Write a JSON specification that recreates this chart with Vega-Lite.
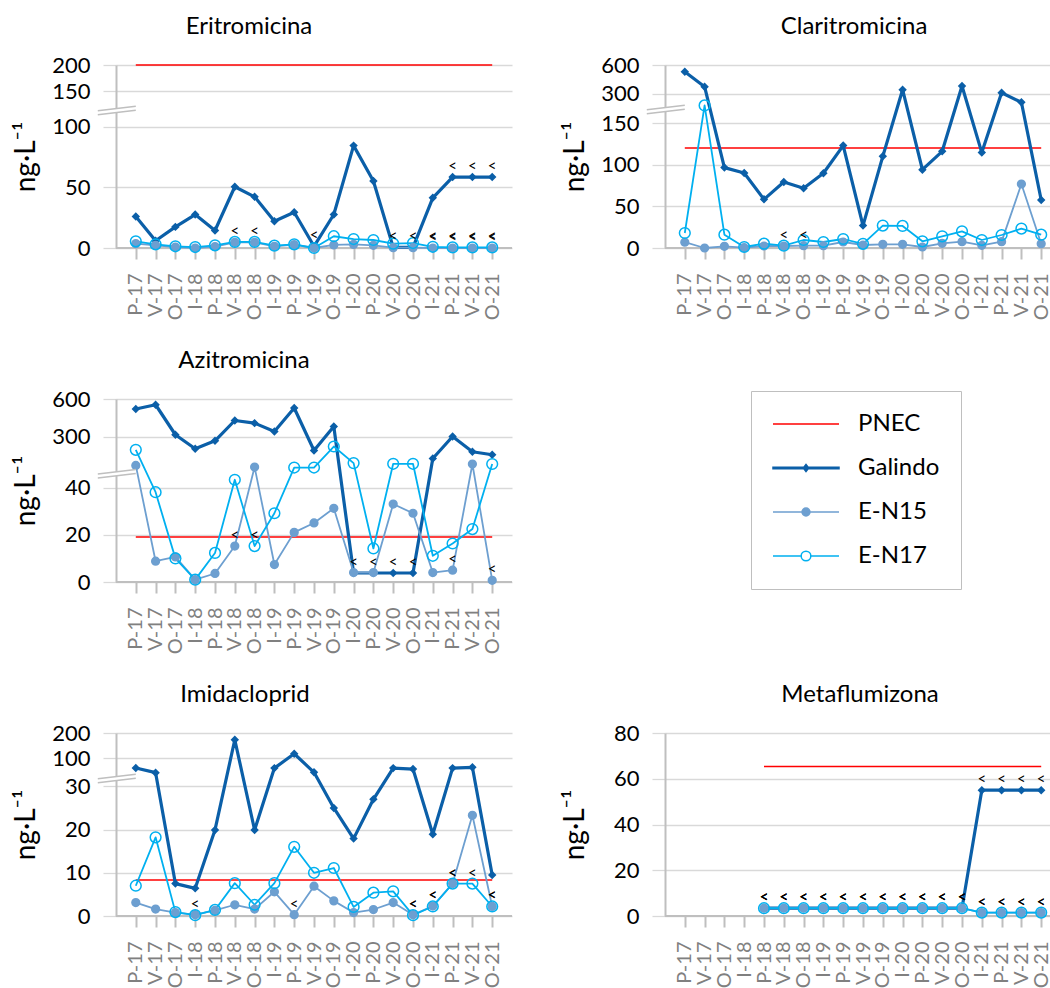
{
"$schema": "https://vega.github.io/schema/vega-lite/v6.json",
"background": "white",
"padding": {"left": 12, "top": 15, "right": 0, "bottom": 0},
"datasets": {"d": [
{"panel":"E","series":"Galindo","period":"P-17","value":26},
{"panel":"E","series":"Galindo","period":"V-17","value":6},
{"panel":"E","series":"Galindo","period":"O-17","value":17.4},
{"panel":"E","series":"Galindo","period":"I-18","value":27.6},
{"panel":"E","series":"Galindo","period":"P-18","value":14.4},
{"panel":"E","series":"Galindo","period":"V-18","value":50.5},
{"panel":"E","series":"Galindo","period":"O-18","value":42.2},
{"panel":"E","series":"Galindo","period":"I-19","value":22.1},
{"panel":"E","series":"Galindo","period":"P-19","value":29.5},
{"panel":"E","series":"Galindo","period":"V-19","value":1.4,"lt":1},
{"panel":"E","series":"Galindo","period":"O-19","value":27.6},
{"panel":"E","series":"Galindo","period":"I-20","value":84.4},
{"panel":"E","series":"Galindo","period":"P-20","value":55.2},
{"panel":"E","series":"Galindo","period":"V-20","value":0.5,"lt":1},
{"panel":"E","series":"Galindo","period":"O-20","value":0.5,"lt":1},
{"panel":"E","series":"Galindo","period":"I-21","value":41.4},
{"panel":"E","series":"Galindo","period":"P-21","value":58.5,"lt":1},
{"panel":"E","series":"Galindo","period":"V-21","value":58.5,"lt":1},
{"panel":"E","series":"Galindo","period":"O-21","value":58.5,"lt":1},
{"panel":"E","series":"E-N15","period":"P-17","value":3.6},
{"panel":"E","series":"E-N15","period":"V-17","value":2.2},
{"panel":"E","series":"E-N15","period":"O-17","value":0.8},
{"panel":"E","series":"E-N15","period":"I-18","value":0},
{"panel":"E","series":"E-N15","period":"P-18","value":1.2},
{"panel":"E","series":"E-N15","period":"V-18","value":4.7,"lt":1},
{"panel":"E","series":"E-N15","period":"O-18","value":4.7,"lt":1},
{"panel":"E","series":"E-N15","period":"I-19","value":1.4},
{"panel":"E","series":"E-N15","period":"P-19","value":2.8},
{"panel":"E","series":"E-N15","period":"V-19","value":0},
{"panel":"E","series":"E-N15","period":"O-19","value":2.5},
{"panel":"E","series":"E-N15","period":"I-20","value":3},
{"panel":"E","series":"E-N15","period":"P-20","value":2.2},
{"panel":"E","series":"E-N15","period":"V-20","value":0.3},
{"panel":"E","series":"E-N15","period":"O-20","value":0.3},
{"panel":"E","series":"E-N15","period":"I-21","value":0,"lt":1},
{"panel":"E","series":"E-N15","period":"P-21","value":0,"lt":1},
{"panel":"E","series":"E-N15","period":"V-21","value":0,"lt":1},
{"panel":"E","series":"E-N15","period":"O-21","value":0,"lt":1},
{"panel":"E","series":"E-N17","period":"P-17","value":5.5},
{"panel":"E","series":"E-N17","period":"V-17","value":3},
{"panel":"E","series":"E-N17","period":"O-17","value":1.4},
{"panel":"E","series":"E-N17","period":"I-18","value":0.8},
{"panel":"E","series":"E-N17","period":"P-18","value":2.2},
{"panel":"E","series":"E-N17","period":"V-18","value":5},
{"panel":"E","series":"E-N17","period":"O-18","value":5},
{"panel":"E","series":"E-N17","period":"I-19","value":1.9},
{"panel":"E","series":"E-N17","period":"P-19","value":3},
{"panel":"E","series":"E-N17","period":"V-19","value":0},
{"panel":"E","series":"E-N17","period":"O-19","value":9.7},
{"panel":"E","series":"E-N17","period":"I-20","value":7.4},
{"panel":"E","series":"E-N17","period":"P-20","value":6.6},
{"panel":"E","series":"E-N17","period":"V-20","value":3.6},
{"panel":"E","series":"E-N17","period":"O-20","value":4.1},
{"panel":"E","series":"E-N17","period":"I-21","value":1,"lt":1},
{"panel":"E","series":"E-N17","period":"P-21","value":0.5,"lt":1},
{"panel":"E","series":"E-N17","period":"V-21","value":0.5,"lt":1},
{"panel":"E","series":"E-N17","period":"O-21","value":0.5,"lt":1},
{"panel":"C","series":"Galindo","period":"P-17","value":530},
{"panel":"C","series":"Galindo","period":"V-17","value":373},
{"panel":"C","series":"Galindo","period":"O-17","value":96.5},
{"panel":"C","series":"Galindo","period":"I-18","value":90},
{"panel":"C","series":"Galindo","period":"P-18","value":58.4},
{"panel":"C","series":"Galindo","period":"V-18","value":79.2},
{"panel":"C","series":"Galindo","period":"O-18","value":71.7},
{"panel":"C","series":"Galindo","period":"I-19","value":89.7},
{"panel":"C","series":"Galindo","period":"P-19","value":122.9},
{"panel":"C","series":"Galindo","period":"V-19","value":26.9},
{"panel":"C","series":"Galindo","period":"O-19","value":110},
{"panel":"C","series":"Galindo","period":"I-20","value":342},
{"panel":"C","series":"Galindo","period":"P-20","value":94},
{"panel":"C","series":"Galindo","period":"V-20","value":116},
{"panel":"C","series":"Galindo","period":"O-20","value":380},
{"panel":"C","series":"Galindo","period":"I-21","value":114.5},
{"panel":"C","series":"Galindo","period":"P-21","value":310},
{"panel":"C","series":"Galindo","period":"V-21","value":256},
{"panel":"C","series":"Galindo","period":"O-21","value":57.6},
{"panel":"C","series":"E-N15","period":"P-17","value":7},
{"panel":"C","series":"E-N15","period":"V-17","value":0},
{"panel":"C","series":"E-N15","period":"O-17","value":2},
{"panel":"C","series":"E-N15","period":"I-18","value":0.4},
{"panel":"C","series":"E-N15","period":"P-18","value":2.4},
{"panel":"C","series":"E-N15","period":"V-18","value":2.4,"lt":1},
{"panel":"C","series":"E-N15","period":"O-18","value":2.8,"lt":1},
{"panel":"C","series":"E-N15","period":"I-19","value":2.8},
{"panel":"C","series":"E-N15","period":"P-19","value":7.2},
{"panel":"C","series":"E-N15","period":"V-19","value":3.6},
{"panel":"C","series":"E-N15","period":"O-19","value":4.4},
{"panel":"C","series":"E-N15","period":"I-20","value":4.4},
{"panel":"C","series":"E-N15","period":"P-20","value":1.2},
{"panel":"C","series":"E-N15","period":"V-20","value":5.6},
{"panel":"C","series":"E-N15","period":"O-20","value":7.6},
{"panel":"C","series":"E-N15","period":"I-21","value":3.2},
{"panel":"C","series":"E-N15","period":"P-21","value":7.6},
{"panel":"C","series":"E-N15","period":"V-21","value":76.8},
{"panel":"C","series":"E-N15","period":"O-21","value":5.2},
{"panel":"C","series":"E-N17","period":"P-17","value":18},
{"panel":"C","series":"E-N17","period":"V-17","value":240},
{"panel":"C","series":"E-N17","period":"O-17","value":16},
{"panel":"C","series":"E-N17","period":"I-18","value":1.2},
{"panel":"C","series":"E-N17","period":"P-18","value":5.2},
{"panel":"C","series":"E-N17","period":"V-18","value":2.8},
{"panel":"C","series":"E-N17","period":"O-18","value":9.6},
{"panel":"C","series":"E-N17","period":"I-19","value":7.2},
{"panel":"C","series":"E-N17","period":"P-19","value":10.8},
{"panel":"C","series":"E-N17","period":"V-19","value":5},
{"panel":"C","series":"E-N17","period":"O-19","value":26.9},
{"panel":"C","series":"E-N17","period":"I-20","value":26.5},
{"panel":"C","series":"E-N17","period":"P-20","value":8},
{"panel":"C","series":"E-N17","period":"V-20","value":14},
{"panel":"C","series":"E-N17","period":"O-20","value":20},
{"panel":"C","series":"E-N17","period":"I-21","value":9.6},
{"panel":"C","series":"E-N17","period":"P-21","value":15.6},
{"panel":"C","series":"E-N17","period":"V-21","value":23.3},
{"panel":"C","series":"E-N17","period":"O-21","value":16},
{"panel":"A","series":"Galindo","period":"P-17","value":520},
{"panel":"A","series":"Galindo","period":"V-17","value":554},
{"panel":"A","series":"Galindo","period":"O-17","value":314},
{"panel":"A","series":"Galindo","period":"I-18","value":188},
{"panel":"A","series":"Galindo","period":"P-18","value":261},
{"panel":"A","series":"Galindo","period":"V-18","value":428},
{"panel":"A","series":"Galindo","period":"O-18","value":407},
{"panel":"A","series":"Galindo","period":"I-19","value":340},
{"panel":"A","series":"Galindo","period":"P-19","value":528},
{"panel":"A","series":"Galindo","period":"V-19","value":173},
{"panel":"A","series":"Galindo","period":"O-19","value":380},
{"panel":"A","series":"Galindo","period":"I-20","value":3.8,"lt":1},
{"panel":"A","series":"Galindo","period":"P-20","value":3.8,"lt":1},
{"panel":"A","series":"Galindo","period":"V-20","value":3.8,"lt":1},
{"panel":"A","series":"Galindo","period":"O-20","value":3.8,"lt":1},
{"panel":"A","series":"Galindo","period":"I-21","value":100},
{"panel":"A","series":"Galindo","period":"P-21","value":300},
{"panel":"A","series":"Galindo","period":"V-21","value":161},
{"panel":"A","series":"Galindo","period":"O-21","value":134},
{"panel":"A","series":"E-N15","period":"P-17","value":49.4},
{"panel":"A","series":"E-N15","period":"V-17","value":8.8},
{"panel":"A","series":"E-N15","period":"O-17","value":10.6},
{"panel":"A","series":"E-N15","period":"I-18","value":1},
{"panel":"A","series":"E-N15","period":"P-18","value":3.6},
{"panel":"A","series":"E-N15","period":"V-18","value":15.2,"lt":1},
{"panel":"A","series":"E-N15","period":"O-18","value":48.7},
{"panel":"A","series":"E-N15","period":"I-19","value":7.4},
{"panel":"A","series":"E-N15","period":"P-19","value":21},
{"panel":"A","series":"E-N15","period":"V-19","value":25},
{"panel":"A","series":"E-N15","period":"O-19","value":31.2},
{"panel":"A","series":"E-N15","period":"I-20","value":4},
{"panel":"A","series":"E-N15","period":"P-20","value":4},
{"panel":"A","series":"E-N15","period":"V-20","value":33},
{"panel":"A","series":"E-N15","period":"O-20","value":29.1},
{"panel":"A","series":"E-N15","period":"I-21","value":4},
{"panel":"A","series":"E-N15","period":"P-21","value":5,"lt":1},
{"panel":"A","series":"E-N15","period":"V-21","value":50},
{"panel":"A","series":"E-N15","period":"O-21","value":0.7,"lt":1},
{"panel":"A","series":"E-N17","period":"P-17","value":179},
{"panel":"A","series":"E-N17","period":"V-17","value":38},
{"panel":"A","series":"E-N17","period":"O-17","value":10},
{"panel":"A","series":"E-N17","period":"I-18","value":1},
{"panel":"A","series":"E-N17","period":"P-18","value":12.3},
{"panel":"A","series":"E-N17","period":"V-18","value":43.3},
{"panel":"A","series":"E-N17","period":"O-18","value":15.2,"lt":1},
{"panel":"A","series":"E-N17","period":"I-19","value":29.1},
{"panel":"A","series":"E-N17","period":"P-19","value":48.5},
{"panel":"A","series":"E-N17","period":"V-19","value":48.5},
{"panel":"A","series":"E-N17","period":"O-19","value":209},
{"panel":"A","series":"E-N17","period":"I-20","value":58},
{"panel":"A","series":"E-N17","period":"P-20","value":14.2},
{"panel":"A","series":"E-N17","period":"V-20","value":52},
{"panel":"A","series":"E-N17","period":"O-20","value":52},
{"panel":"A","series":"E-N17","period":"I-21","value":11.1},
{"panel":"A","series":"E-N17","period":"P-21","value":16.3},
{"panel":"A","series":"E-N17","period":"V-21","value":22.4},
{"panel":"A","series":"E-N17","period":"O-21","value":50},
{"panel":"I","series":"Galindo","period":"P-17","value":75.3},
{"panel":"I","series":"Galindo","period":"V-17","value":63.7},
{"panel":"I","series":"Galindo","period":"O-17","value":7.5},
{"panel":"I","series":"Galindo","period":"I-18","value":6.4},
{"panel":"I","series":"Galindo","period":"P-18","value":19.9},
{"panel":"I","series":"Galindo","period":"V-18","value":173},
{"panel":"I","series":"Galindo","period":"O-18","value":19.9},
{"panel":"I","series":"Galindo","period":"I-19","value":75},
{"panel":"I","series":"Galindo","period":"P-19","value":117},
{"panel":"I","series":"Galindo","period":"V-19","value":64.6},
{"panel":"I","series":"Galindo","period":"O-19","value":25},
{"panel":"I","series":"Galindo","period":"I-20","value":17.9},
{"panel":"I","series":"Galindo","period":"P-20","value":27},
{"panel":"I","series":"Galindo","period":"V-20","value":75},
{"panel":"I","series":"Galindo","period":"O-20","value":72.6},
{"panel":"I","series":"Galindo","period":"I-21","value":18.9},
{"panel":"I","series":"Galindo","period":"P-21","value":75},
{"panel":"I","series":"Galindo","period":"V-21","value":77},
{"panel":"I","series":"Galindo","period":"O-21","value":9.5},
{"panel":"I","series":"E-N15","period":"P-17","value":3.1},
{"panel":"I","series":"E-N15","period":"V-17","value":1.6},
{"panel":"I","series":"E-N15","period":"O-17","value":0.8},
{"panel":"I","series":"E-N15","period":"I-18","value":0.3,"lt":1},
{"panel":"I","series":"E-N15","period":"P-18","value":1.3},
{"panel":"I","series":"E-N15","period":"V-18","value":2.6},
{"panel":"I","series":"E-N15","period":"O-18","value":1.6},
{"panel":"I","series":"E-N15","period":"I-19","value":5.6},
{"panel":"I","series":"E-N15","period":"P-19","value":0.3,"lt":1},
{"panel":"I","series":"E-N15","period":"V-19","value":6.9},
{"panel":"I","series":"E-N15","period":"O-19","value":3.5},
{"panel":"I","series":"E-N15","period":"I-20","value":0.8},
{"panel":"I","series":"E-N15","period":"P-20","value":1.5},
{"panel":"I","series":"E-N15","period":"V-20","value":3.1},
{"panel":"I","series":"E-N15","period":"O-20","value":0.3,"lt":1},
{"panel":"I","series":"E-N15","period":"I-21","value":2.3,"lt":1},
{"panel":"I","series":"E-N15","period":"P-21","value":7.5,"lt":1},
{"panel":"I","series":"E-N15","period":"V-21","value":23.3},
{"panel":"I","series":"E-N15","period":"O-21","value":2.2,"lt":1},
{"panel":"I","series":"E-N17","period":"P-17","value":7},
{"panel":"I","series":"E-N17","period":"V-17","value":18.2},
{"panel":"I","series":"E-N17","period":"O-17","value":0.9},
{"panel":"I","series":"E-N17","period":"I-18","value":0.2},
{"panel":"I","series":"E-N17","period":"P-18","value":1.4},
{"panel":"I","series":"E-N17","period":"V-18","value":7.6},
{"panel":"I","series":"E-N17","period":"O-18","value":2.6},
{"panel":"I","series":"E-N17","period":"I-19","value":7.6},
{"panel":"I","series":"E-N17","period":"P-19","value":16},
{"panel":"I","series":"E-N17","period":"V-19","value":10},
{"panel":"I","series":"E-N17","period":"O-19","value":11.1},
{"panel":"I","series":"E-N17","period":"I-20","value":2.1},
{"panel":"I","series":"E-N17","period":"P-20","value":5.4},
{"panel":"I","series":"E-N17","period":"V-20","value":5.7},
{"panel":"I","series":"E-N17","period":"O-20","value":0.2,"lt":1},
{"panel":"I","series":"E-N17","period":"I-21","value":2.2,"lt":1},
{"panel":"I","series":"E-N17","period":"P-21","value":7.5,"lt":1},
{"panel":"I","series":"E-N17","period":"V-21","value":7.5,"lt":1},
{"panel":"I","series":"E-N17","period":"O-21","value":2.2,"lt":1},
{"panel":"M","series":"Galindo","period":"P-18","value":3.4,"lt":1},
{"panel":"M","series":"Galindo","period":"V-18","value":3.4,"lt":1},
{"panel":"M","series":"Galindo","period":"O-18","value":3.4,"lt":1},
{"panel":"M","series":"Galindo","period":"I-19","value":3.4,"lt":1},
{"panel":"M","series":"Galindo","period":"P-19","value":3.4,"lt":1},
{"panel":"M","series":"Galindo","period":"V-19","value":3.4,"lt":1},
{"panel":"M","series":"Galindo","period":"O-19","value":3.4,"lt":1},
{"panel":"M","series":"Galindo","period":"I-20","value":3.4,"lt":1},
{"panel":"M","series":"Galindo","period":"P-20","value":3.4,"lt":1},
{"panel":"M","series":"Galindo","period":"V-20","value":3.4,"lt":1},
{"panel":"M","series":"Galindo","period":"O-20","value":3.4,"lt":1},
{"panel":"M","series":"Galindo","period":"I-21","value":55,"lt":1},
{"panel":"M","series":"Galindo","period":"P-21","value":55,"lt":1},
{"panel":"M","series":"Galindo","period":"V-21","value":55,"lt":1},
{"panel":"M","series":"Galindo","period":"O-21","value":55,"lt":1},
{"panel":"M","series":"E-N15","period":"P-18","value":3.4,"lt":1},
{"panel":"M","series":"E-N15","period":"V-18","value":3.4,"lt":1},
{"panel":"M","series":"E-N15","period":"O-18","value":3.4,"lt":1},
{"panel":"M","series":"E-N15","period":"I-19","value":3.4,"lt":1},
{"panel":"M","series":"E-N15","period":"P-19","value":3.4,"lt":1},
{"panel":"M","series":"E-N15","period":"V-19","value":3.4,"lt":1},
{"panel":"M","series":"E-N15","period":"O-19","value":3.4,"lt":1},
{"panel":"M","series":"E-N15","period":"I-20","value":3.4,"lt":1},
{"panel":"M","series":"E-N15","period":"P-20","value":3.4,"lt":1},
{"panel":"M","series":"E-N15","period":"V-20","value":3.4,"lt":1},
{"panel":"M","series":"E-N15","period":"O-20","value":3.4,"lt":1},
{"panel":"M","series":"E-N15","period":"I-21","value":1.5,"lt":1},
{"panel":"M","series":"E-N15","period":"P-21","value":1.5,"lt":1},
{"panel":"M","series":"E-N15","period":"V-21","value":1.5,"lt":1},
{"panel":"M","series":"E-N15","period":"O-21","value":1.5,"lt":1},
{"panel":"M","series":"E-N17","period":"P-18","value":3.4,"lt":1},
{"panel":"M","series":"E-N17","period":"V-18","value":3.4,"lt":1},
{"panel":"M","series":"E-N17","period":"O-18","value":3.4,"lt":1},
{"panel":"M","series":"E-N17","period":"I-19","value":3.4,"lt":1},
{"panel":"M","series":"E-N17","period":"P-19","value":3.4,"lt":1},
{"panel":"M","series":"E-N17","period":"V-19","value":3.4,"lt":1},
{"panel":"M","series":"E-N17","period":"O-19","value":3.4,"lt":1},
{"panel":"M","series":"E-N17","period":"I-20","value":3.4,"lt":1},
{"panel":"M","series":"E-N17","period":"P-20","value":3.4,"lt":1},
{"panel":"M","series":"E-N17","period":"V-20","value":3.4,"lt":1},
{"panel":"M","series":"E-N17","period":"O-20","value":3.4,"lt":1},
{"panel":"M","series":"E-N17","period":"I-21","value":1.5,"lt":1},
{"panel":"M","series":"E-N17","period":"P-21","value":1.5,"lt":1},
{"panel":"M","series":"E-N17","period":"V-21","value":1.5,"lt":1},
{"panel":"M","series":"E-N17","period":"O-21","value":1.5,"lt":1}
]},
"data": {"name": "d"},
"spacing": 29,
"vconcat": [
{"spacing": 48, "hconcat": [
{"title": {"text": "Eritromicina", "dx": -65}, "width": 396, "height": 183, "layer": [
 {"data": {"values": [{}]}, "mark": {"type": "rule", "color": "#bfbfbf", "strokeWidth": 2}, "encoding": {"y": {"datum": 0, "type": "quantitative", "title": "ng·L⁻¹", "scale": {"domain": [0,100,150,200], "range": [183,61.7,26,0], "nice": false}, "axis": {"values": [0,50,100,150,200], "tickCount": 10, "title": "ng·L⁻¹"}}}},
 {"data": {"values": [{}]}, "mark": {"type": "rule", "color": "#ff0000", "strokeWidth": 1.5}, "encoding": {"x": {"datum": "P-17", "type": "ordinal", "title": null}, "x2": {"datum": "O-21"}, "y": {"datum": 200, "type": "quantitative", "title": "ng·L⁻¹"}}},
 {"transform": [{"filter": "datum.panel==='E'"}], "mark": {"type": "line", "strokeJoin": "round"}, "encoding": {
   "x": {"field": "period", "type": "ordinal", "sort": null, "title": null, "scale": {"type": "point", "padding": 1, "domain": ["P-17","V-17","O-17","I-18","P-18","V-18","O-18","I-19","P-19","V-19","O-19","I-20","P-20","V-20","O-20","I-21","P-21","V-21","O-21"]}, "axis": {"title": null}},
   "y": {"field": "value", "type": "quantitative", "title": "ng·L⁻¹"},
   "detail": {"field": "series"},
   "stroke": {"condition": [{"test": "datum.series==='Galindo'", "value": "#0b5fa8"}, {"test": "datum.series==='E-N15'", "value": "#6d9fd0"}], "value": "#00b0f0"},
   "strokeWidth": {"condition": {"test": "datum.series==='Galindo'", "value": 3.2}, "value": 1.8},
   "order": {"value": null}}},
 {"transform": [{"filter": "datum.panel==='E'"}], "mark": {"type": "point", "filled": true, "strokeWidth": 1.5, "opacity": 1}, "encoding": {
   "x": {"field": "period", "type": "ordinal", "sort": null, "title": null},
   "y": {"field": "value", "type": "quantitative", "title": "ng·L⁻¹"},
   "fill": {"condition": [{"test": "datum.series==='Galindo'", "value": "#0b5fa8"}, {"test": "datum.series==='E-N15'", "value": "#6d9fd0"}], "value": "transparent"},
   "stroke": {"condition": [{"test": "datum.series==='Galindo'", "value": "#0b5fa8"}, {"test": "datum.series==='E-N15'", "value": "#6d9fd0"}], "value": "#00b0f0"},
   "shape": {"condition": {"test": "datum.series==='Galindo'", "value": "diamond"}, "value": "circle"},
   "size": {"condition": [{"test": "datum.series==='Galindo'", "value": 40}, {"test": "datum.series==='E-N15'", "value": 60}], "value": 115}}},
 {"transform": [{"filter": "datum.panel==='E' && datum.lt===1"}], "mark": {"type": "text", "text": "<", "fontSize": 15, "dy": -11, "color": "black"}, "encoding": {
   "x": {"field": "period", "type": "ordinal", "sort": null, "title": null},
   "y": {"field": "value", "type": "quantitative", "title": "ng·L⁻¹"}}},
 {"data": {"values": [{}]}, "mark": {"type": "point", "shape": "M-3.8,0.05L0,-0.4L0,0L-3.8,0.45Z", "size": 400, "filled": true, "fill": "white", "strokeWidth": 0, "opacity": 1}, "encoding": {"x": {"datum": "P-17", "type": "ordinal", "title": null}, "y": {"datum": 123, "type": "quantitative", "title": "ng·L⁻¹"}}},
 {"data": {"values": [{}]}, "mark": {"type": "point", "shape": "M-3.8,0.05L0,-0.4M-3.8,0.45L0,0", "size": 400, "filled": false, "stroke": "#bfbfbf", "strokeWidth": 1.5, "opacity": 1}, "encoding": {"x": {"datum": "P-17", "type": "ordinal", "title": null}, "y": {"datum": 123, "type": "quantitative", "title": "ng·L⁻¹"}}}
]},
{"title": {"text": "Claritromicina", "dx": -4}, "width": 386, "height": 183, "layer": [
 {"data": {"values": [{}]}, "mark": {"type": "rule", "color": "#bfbfbf", "strokeWidth": 2}, "encoding": {"y": {"datum": 0, "type": "quantitative", "title": "ng·L⁻¹", "scale": {"domain": [0,150,300,600], "range": [183,58,28.7,0], "nice": false}, "axis": {"values": [0,50,100,150,300,600], "tickCount": 10, "title": "ng·L⁻¹"}}}},
 {"data": {"values": [{}]}, "mark": {"type": "rule", "color": "#ff0000", "strokeWidth": 1.5}, "encoding": {"x": {"datum": "P-17", "type": "ordinal", "title": null}, "x2": {"datum": "O-21"}, "y": {"datum": 120, "type": "quantitative", "title": "ng·L⁻¹"}}},
 {"transform": [{"filter": "datum.panel==='C'"}], "mark": {"type": "line", "strokeJoin": "round"}, "encoding": {
   "x": {"field": "period", "type": "ordinal", "sort": null, "title": null, "scale": {"type": "point", "padding": 1, "range": [0, 396], "domain": ["P-17","V-17","O-17","I-18","P-18","V-18","O-18","I-19","P-19","V-19","O-19","I-20","P-20","V-20","O-20","I-21","P-21","V-21","O-21"]}, "axis": {"title": null}},
   "y": {"field": "value", "type": "quantitative", "title": "ng·L⁻¹"},
   "detail": {"field": "series"},
   "stroke": {"condition": [{"test": "datum.series==='Galindo'", "value": "#0b5fa8"}, {"test": "datum.series==='E-N15'", "value": "#6d9fd0"}], "value": "#00b0f0"},
   "strokeWidth": {"condition": {"test": "datum.series==='Galindo'", "value": 3.2}, "value": 1.8},
   "order": {"value": null}}},
 {"transform": [{"filter": "datum.panel==='C'"}], "mark": {"type": "point", "filled": true, "strokeWidth": 1.5, "opacity": 1}, "encoding": {
   "x": {"field": "period", "type": "ordinal", "sort": null, "title": null},
   "y": {"field": "value", "type": "quantitative", "title": "ng·L⁻¹"},
   "fill": {"condition": [{"test": "datum.series==='Galindo'", "value": "#0b5fa8"}, {"test": "datum.series==='E-N15'", "value": "#6d9fd0"}], "value": "transparent"},
   "stroke": {"condition": [{"test": "datum.series==='Galindo'", "value": "#0b5fa8"}, {"test": "datum.series==='E-N15'", "value": "#6d9fd0"}], "value": "#00b0f0"},
   "shape": {"condition": {"test": "datum.series==='Galindo'", "value": "diamond"}, "value": "circle"},
   "size": {"condition": [{"test": "datum.series==='Galindo'", "value": 40}, {"test": "datum.series==='E-N15'", "value": 60}], "value": 115}}},
 {"transform": [{"filter": "datum.panel==='C' && datum.lt===1"}], "mark": {"type": "text", "text": "<", "fontSize": 15, "dy": -11, "color": "black"}, "encoding": {
   "x": {"field": "period", "type": "ordinal", "sort": null, "title": null},
   "y": {"field": "value", "type": "quantitative", "title": "ng·L⁻¹"}}},
 {"data": {"values": [{}]}, "mark": {"type": "point", "shape": "M-3.8,0.05L0,-0.4L0,0L-3.8,0.45Z", "size": 400, "filled": true, "fill": "white", "strokeWidth": 0, "opacity": 1}, "encoding": {"x": {"datum": "P-17", "type": "ordinal", "title": null}, "y": {"datum": 220, "type": "quantitative", "title": "ng·L⁻¹"}}},
 {"data": {"values": [{}]}, "mark": {"type": "point", "shape": "M-3.8,0.05L0,-0.4M-3.8,0.45L0,0", "size": 400, "filled": false, "stroke": "#bfbfbf", "strokeWidth": 1.5, "opacity": 1}, "encoding": {"x": {"datum": "P-17", "type": "ordinal", "title": null}, "y": {"datum": 220, "type": "quantitative", "title": "ng·L⁻¹"}}}
]}
]},
{"title": {"text": "Azitromicina", "dx": -70}, "width": 396, "height": 183, "layer": [
 {"data": {"values": [{}]}, "mark": {"type": "rule", "color": "#bfbfbf", "strokeWidth": 2}, "encoding": {"y": {"datum": 0, "type": "quantitative", "title": "ng·L⁻¹", "scale": {"domain": [0,40,50,300,600], "range": [183,88.5,65,37.5,0], "nice": false}, "axis": {"values": [0,20,40,300,600], "tickCount": 10, "title": "ng·L⁻¹"}}}},
 {"data": {"values": [{}]}, "mark": {"type": "rule", "color": "#ff0000", "strokeWidth": 1.5}, "encoding": {"x": {"datum": "P-17", "type": "ordinal", "title": null}, "x2": {"datum": "O-21"}, "y": {"datum": 19, "type": "quantitative", "title": "ng·L⁻¹"}}},
 {"transform": [{"filter": "datum.panel==='A'"}], "mark": {"type": "line", "strokeJoin": "round"}, "encoding": {
   "x": {"field": "period", "type": "ordinal", "sort": null, "title": null, "scale": {"type": "point", "padding": 1, "domain": ["P-17","V-17","O-17","I-18","P-18","V-18","O-18","I-19","P-19","V-19","O-19","I-20","P-20","V-20","O-20","I-21","P-21","V-21","O-21"]}, "axis": {"title": null}},
   "y": {"field": "value", "type": "quantitative", "title": "ng·L⁻¹"},
   "detail": {"field": "series"},
   "stroke": {"condition": [{"test": "datum.series==='Galindo'", "value": "#0b5fa8"}, {"test": "datum.series==='E-N15'", "value": "#6d9fd0"}], "value": "#00b0f0"},
   "strokeWidth": {"condition": {"test": "datum.series==='Galindo'", "value": 3.2}, "value": 1.8},
   "order": {"value": null}}},
 {"transform": [{"filter": "datum.panel==='A'"}], "mark": {"type": "point", "filled": true, "strokeWidth": 1.5, "opacity": 1}, "encoding": {
   "x": {"field": "period", "type": "ordinal", "sort": null, "title": null},
   "y": {"field": "value", "type": "quantitative", "title": "ng·L⁻¹"},
   "fill": {"condition": [{"test": "datum.series==='Galindo'", "value": "#0b5fa8"}, {"test": "datum.series==='E-N15'", "value": "#6d9fd0"}], "value": "transparent"},
   "stroke": {"condition": [{"test": "datum.series==='Galindo'", "value": "#0b5fa8"}, {"test": "datum.series==='E-N15'", "value": "#6d9fd0"}], "value": "#00b0f0"},
   "shape": {"condition": {"test": "datum.series==='Galindo'", "value": "diamond"}, "value": "circle"},
   "size": {"condition": [{"test": "datum.series==='Galindo'", "value": 40}, {"test": "datum.series==='E-N15'", "value": 60}], "value": 115}}},
 {"transform": [{"filter": "datum.panel==='A' && datum.lt===1"}], "mark": {"type": "text", "text": "<", "fontSize": 15, "dy": -11, "color": "black"}, "encoding": {
   "x": {"field": "period", "type": "ordinal", "sort": null, "title": null},
   "y": {"field": "value", "type": "quantitative", "title": "ng·L⁻¹"}}},
 {"data": {"values": [{}]}, "mark": {"type": "point", "shape": "M-3.8,0.05L0,-0.4L0,0L-3.8,0.45Z", "size": 400, "filled": true, "fill": "white", "strokeWidth": 0, "opacity": 1}, "encoding": {"x": {"datum": "P-17", "type": "ordinal", "title": null}, "y": {"datum": 46, "type": "quantitative", "title": "ng·L⁻¹"}}},
 {"data": {"values": [{}]}, "mark": {"type": "point", "shape": "M-3.8,0.05L0,-0.4M-3.8,0.45L0,0", "size": 400, "filled": false, "stroke": "#bfbfbf", "strokeWidth": 1.5, "opacity": 1}, "encoding": {"x": {"datum": "P-17", "type": "ordinal", "title": null}, "y": {"datum": 46, "type": "quantitative", "title": "ng·L⁻¹"}}}
]},
{"spacing": 48, "hconcat": [
{"title": {"text": "Imidacloprid", "dx": -69}, "width": 396, "height": 183, "layer": [
 {"data": {"values": [{}]}, "mark": {"type": "rule", "color": "#bfbfbf", "strokeWidth": 2}, "encoding": {"y": {"datum": 0, "type": "quantitative", "title": "ng·L⁻¹", "scale": {"domain": [0,30,100,200], "range": [183,53.3,25,0], "nice": false}, "axis": {"values": [0,10,20,30,100,200], "tickCount": 10, "title": "ng·L⁻¹"}}}},
 {"data": {"values": [{}]}, "mark": {"type": "rule", "color": "#ff0000", "strokeWidth": 1.5}, "encoding": {"x": {"datum": "P-17", "type": "ordinal", "title": null}, "x2": {"datum": "O-21"}, "y": {"datum": 8.3, "type": "quantitative", "title": "ng·L⁻¹"}}},
 {"transform": [{"filter": "datum.panel==='I'"}], "mark": {"type": "line", "strokeJoin": "round"}, "encoding": {
   "x": {"field": "period", "type": "ordinal", "sort": null, "title": null, "scale": {"type": "point", "padding": 1, "domain": ["P-17","V-17","O-17","I-18","P-18","V-18","O-18","I-19","P-19","V-19","O-19","I-20","P-20","V-20","O-20","I-21","P-21","V-21","O-21"]}, "axis": {"title": null}},
   "y": {"field": "value", "type": "quantitative", "title": "ng·L⁻¹"},
   "detail": {"field": "series"},
   "stroke": {"condition": [{"test": "datum.series==='Galindo'", "value": "#0b5fa8"}, {"test": "datum.series==='E-N15'", "value": "#6d9fd0"}], "value": "#00b0f0"},
   "strokeWidth": {"condition": {"test": "datum.series==='Galindo'", "value": 3.2}, "value": 1.8},
   "order": {"value": null}}},
 {"transform": [{"filter": "datum.panel==='I'"}], "mark": {"type": "point", "filled": true, "strokeWidth": 1.5, "opacity": 1}, "encoding": {
   "x": {"field": "period", "type": "ordinal", "sort": null, "title": null},
   "y": {"field": "value", "type": "quantitative", "title": "ng·L⁻¹"},
   "fill": {"condition": [{"test": "datum.series==='Galindo'", "value": "#0b5fa8"}, {"test": "datum.series==='E-N15'", "value": "#6d9fd0"}], "value": "transparent"},
   "stroke": {"condition": [{"test": "datum.series==='Galindo'", "value": "#0b5fa8"}, {"test": "datum.series==='E-N15'", "value": "#6d9fd0"}], "value": "#00b0f0"},
   "shape": {"condition": {"test": "datum.series==='Galindo'", "value": "diamond"}, "value": "circle"},
   "size": {"condition": [{"test": "datum.series==='Galindo'", "value": 40}, {"test": "datum.series==='E-N15'", "value": 60}], "value": 115}}},
 {"transform": [{"filter": "datum.panel==='I' && datum.lt===1"}], "mark": {"type": "text", "text": "<", "fontSize": 15, "dy": -11, "color": "black"}, "encoding": {
   "x": {"field": "period", "type": "ordinal", "sort": null, "title": null},
   "y": {"field": "value", "type": "quantitative", "title": "ng·L⁻¹"}}},
 {"data": {"values": [{}]}, "mark": {"type": "point", "shape": "M-3.8,0.05L0,-0.4L0,0L-3.8,0.45Z", "size": 400, "filled": true, "fill": "white", "strokeWidth": 0, "opacity": 1}, "encoding": {"x": {"datum": "P-17", "type": "ordinal", "title": null}, "y": {"datum": 50, "type": "quantitative", "title": "ng·L⁻¹"}}},
 {"data": {"values": [{}]}, "mark": {"type": "point", "shape": "M-3.8,0.05L0,-0.4M-3.8,0.45L0,0", "size": 400, "filled": false, "stroke": "#bfbfbf", "strokeWidth": 1.5, "opacity": 1}, "encoding": {"x": {"datum": "P-17", "type": "ordinal", "title": null}, "y": {"datum": 50, "type": "quantitative", "title": "ng·L⁻¹"}}}
]},
{"title": {"text": "Metaflumizona", "dx": 2}, "width": 386, "height": 183, "layer": [
 {"data": {"values": [{}]}, "mark": {"type": "rule", "color": "#bfbfbf", "strokeWidth": 2}, "encoding": {"y": {"datum": 0, "type": "quantitative", "title": "ng·L⁻¹", "scale": {"domain": [0,80], "nice": false}, "axis": {"values": [0,20,40,60,80], "tickCount": 10, "title": "ng·L⁻¹"}}}},
 {"data": {"values": [{}]}, "mark": {"type": "rule", "color": "#ff0000", "strokeWidth": 1.5}, "encoding": {"x": {"datum": "P-18", "type": "ordinal", "title": null}, "x2": {"datum": "O-21"}, "y": {"datum": 65.4, "type": "quantitative", "title": "ng·L⁻¹"}}},
 {"transform": [{"filter": "datum.panel==='M'"}], "mark": {"type": "line", "strokeJoin": "round"}, "encoding": {
   "x": {"field": "period", "type": "ordinal", "sort": null, "title": null, "scale": {"type": "point", "padding": 1, "range": [0, 396], "domain": ["P-17","V-17","O-17","I-18","P-18","V-18","O-18","I-19","P-19","V-19","O-19","I-20","P-20","V-20","O-20","I-21","P-21","V-21","O-21"]}, "axis": {"title": null}},
   "y": {"field": "value", "type": "quantitative", "title": "ng·L⁻¹"},
   "detail": {"field": "series"},
   "stroke": {"condition": [{"test": "datum.series==='Galindo'", "value": "#0b5fa8"}, {"test": "datum.series==='E-N15'", "value": "#6d9fd0"}], "value": "#00b0f0"},
   "strokeWidth": {"condition": {"test": "datum.series==='Galindo'", "value": 3.2}, "value": 1.8},
   "order": {"value": null}}},
 {"transform": [{"filter": "datum.panel==='M'"}], "mark": {"type": "point", "filled": true, "strokeWidth": 1.5, "opacity": 1}, "encoding": {
   "x": {"field": "period", "type": "ordinal", "sort": null, "title": null},
   "y": {"field": "value", "type": "quantitative", "title": "ng·L⁻¹"},
   "fill": {"condition": [{"test": "datum.series==='Galindo'", "value": "#0b5fa8"}, {"test": "datum.series==='E-N15'", "value": "#6d9fd0"}], "value": "transparent"},
   "stroke": {"condition": [{"test": "datum.series==='Galindo'", "value": "#0b5fa8"}, {"test": "datum.series==='E-N15'", "value": "#6d9fd0"}], "value": "#00b0f0"},
   "shape": {"condition": {"test": "datum.series==='Galindo'", "value": "diamond"}, "value": "circle"},
   "size": {"condition": [{"test": "datum.series==='Galindo'", "value": 40}, {"test": "datum.series==='E-N15'", "value": 60}], "value": 115}}},
 {"transform": [{"filter": "datum.panel==='M' && datum.lt===1"}], "mark": {"type": "text", "text": "<", "fontSize": 15, "dy": -11, "color": "black"}, "encoding": {
   "x": {"field": "period", "type": "ordinal", "sort": null, "title": null},
   "y": {"field": "value", "type": "quantitative", "title": "ng·L⁻¹"}}},
 {"transform": [{"filter": "false"}], "mark": {"type": "point", "filled": true, "opacity": 1}, "encoding": {
   "fill": {"field": "series", "type": "nominal", "scale": {"domain": ["PNEC","Galindo","E-N15","E-N17"], "range": ["#ff0000","#0b5fa8","#6d9fd0","transparent"]}, "legend": {"title": null, "orient": "none", "legendX": 635, "legendY": 326, "strokeColor": "#bfbfbf", "padding": 21}},
   "stroke": {"field": "series", "type": "nominal", "scale": {"domain": ["PNEC","Galindo","E-N15","E-N17"], "range": ["#ff0000","#0b5fa8","#6d9fd0","#00b0f0"]}, "legend": {"title": null, "orient": "none", "legendX": 635, "legendY": 326, "strokeColor": "#bfbfbf", "padding": 21}},
   "shape": {"field": "series", "type": "nominal", "scale": {"domain": ["PNEC","Galindo","E-N15","E-N17"], "range": ["M-1,0H5", "M-1,-0.07H5V0.07H-1ZM2,-0.32L2.25,0L2,0.32L1.75,0Z", "M-1,0H5M2.36,0A0.36,0.36,0,1,1,1.64,0A0.36,0.36,0,1,1,2.36,0Z", "M-1,0H1.56M2.44,0H5M2.44,0A0.44,0.44,0,1,1,1.56,0A0.44,0.44,0,1,1,2.44,0Z"]}, "legend": {"title": null, "orient": "none", "legendX": 635, "legendY": 326, "strokeColor": "#bfbfbf", "padding": 21}}}}
]}
]}
],
"config": {
 "view": {"stroke": null},
 "font": "Lato",
 "title": {"font": "Lato", "fontSize": 24, "fontWeight": "normal", "color": "black", "offset": 15},
 "axis": {"domainColor": "#bfbfbf", "domainWidth": 2, "tickColor": "#bfbfbf", "gridColor": "#d9d9d9", "gridWidth": 1.3, "labelFont": "Lato", "titleFont": "Lato"},
 "axisY": {"grid": true, "labelOverlap": false, "tickCount": 10, "tickSize": 13, "tickWidth": 1.3, "tickColor": "#d9d9d9", "labelFontSize": 22, "labelColor": "black", "labelPadding": 13, "titleFontSize": 28, "titleFontWeight": "normal", "titleColor": "black", "titlePadding": 12, "minExtent": 64, "maxExtent": 64},
 "axisX": {"domain": false, "grid": false, "labelOverlap": false, "tickSize": 11, "tickWidth": 2, "labelAngle": 270, "labelFontSize": 20, "labelColor": "#808080", "labelPadding": 14},
 "legend": {"symbolSize": 484, "symbolStrokeWidth": 1.5, "labelFont": "Lato", "labelFontSize": 24, "labelColor": "black", "labelOffset": 62, "rowPadding": 20, "padding": 21, "strokeColor": "#bfbfbf", "labelLimit": 400}
}
}
